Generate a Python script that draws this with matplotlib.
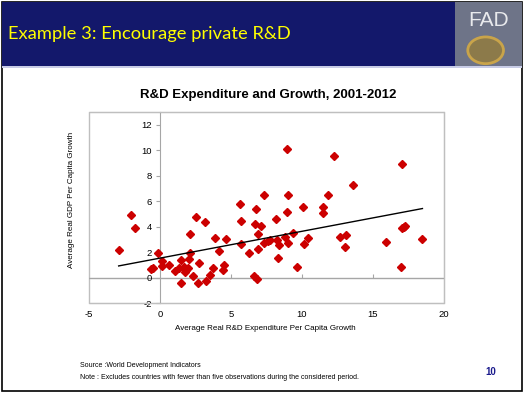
import numpy as np
import matplotlib

matplotlib.use("Agg")
import matplotlib.pyplot as plt
from matplotlib.patches import Rectangle, Circle

# R&D expenditure growth (x) vs GDP per capita growth (y)
rd_growth = [
    -2.91, -2.04, -1.73, -0.66, -0.52, -0.14, 0.15, 0.15, 0.66, 1.07,
    1.45, 1.36, 1.50, 1.67, 1.83, 1.76, 1.98, 2.05, 2.12, 2.12,
    2.35, 2.52, 2.72, 2.70, 3.15, 3.22, 3.55, 3.77, 3.85, 4.17,
    4.50, 4.47, 4.65, 5.67, 5.69, 5.69, 6.30, 6.77, 6.71, 7.13,
    6.89, 6.88, 6.60, 6.86, 7.34, 7.36, 7.60, 7.76, 8.19, 8.23,
    8.40, 8.84, 9.00, 9.34, 8.28, 9.63, 8.97, 8.99, 8.94, 10.09,
    10.15, 10.45, 11.45, 11.45, 11.86, 12.28, 12.70, 13.10, 13.00, 13.60,
    15.93, 17.06, 17.06, 17.17, 17.29, 18.49, 17.01,
]
gdp_growth = [
    2.17, 4.88, 3.90, 0.66, 0.78, 1.90, 1.28, 0.88, 0.95, 0.50,
    -0.46, 0.78, 1.40, 0.84, 0.63, 0.45, 0.71, 1.45, 1.92, 3.42,
    0.14, 4.73, 1.12, -0.45, 4.37, -0.24, 0.22, 0.78, 3.08, 2.12,
    1.02, 0.58, 3.00, 5.78, 4.47, 2.62, 1.89, 5.39, 4.21, 4.02,
    3.45, 2.23, 0.12, -0.09, 6.45, 2.72, 2.85, 2.96, 4.60, 2.97,
    2.59, 3.16, 2.70, 3.48, 1.50, 0.85, 10.09, 6.51, 5.12, 5.54,
    2.62, 3.14, 5.54, 5.07, 6.51, 9.52, 3.22, 3.32, 2.43, 7.28,
    2.80, 8.92, 3.90, 3.98, 4.05, 3.05, 0.84,
]
x_ticks = [-5, 0, 5, 10, 15, 20]
y_ticks = [-2, 0, 2, 4, 6, 8, 10, 12]

NAVY = "#13186B"
RED = "#CC0000"
GRID = "#A6A6A6"

plt.rcParams["axes.unicode_minus"] = False

fig = plt.figure(figsize=(5.25, 3.93), dpi=100)
fig.patch.set_facecolor("white")

# slide frame and header banner
fig.patches.append(Rectangle((0.004, 0.006), 0.990, 0.990, transform=fig.transFigure,
                             fill=False, edgecolor="black", linewidth=1.2))
fig.patches.append(Rectangle((0.004, 0.832), 0.990, 0.164, transform=fig.transFigure,
                             facecolor=NAVY, edgecolor="none"))
fig.patches.append(Rectangle((0.004, 0.826), 0.990, 0.005, transform=fig.transFigure,
                             facecolor="#C8CCE6", edgecolor="none"))
fig.text(0.016, 0.913, "Example 3: Encourage private R&D", color="#FFFF00",
         fontsize=13.2, family=["Lato", "DejaVu Sans"], ha="left", va="center")

# logo block
fig.patches.append(Rectangle((0.866, 0.832), 0.128, 0.164, transform=fig.transFigure,
                             facecolor="#6E7488", edgecolor="none"))
fig.patches.append(Circle((0.925, 0.872), 0.034, transform=fig.transFigure,
                          facecolor="#8C7A4A", edgecolor="#C9A44A", linewidth=2.0))
fig.text(0.930, 0.948, "FAD", color="white", fontsize=15, family="Liberation Sans",
         ha="center", va="center", alpha=0.85)

ax = fig.add_axes([0.1695, 0.229, 0.676, 0.486])
ax.plot(rd_growth, gdp_growth, linestyle="none", marker="D", markersize=4.0,
        color=RED, markeredgecolor=RED, zorder=3)

coef = np.polyfit(rd_growth, gdp_growth, 1)
line_x = np.array([min(rd_growth), max(rd_growth)])
ax.plot(line_x, np.polyval(coef, line_x), color="black", linewidth=1.0, zorder=4)

ax.set_xlim(-5, 20)
ax.set_ylim(-2, 13)

# outer box
for side in ("top", "right", "bottom"):
    ax.spines[side].set_color("#BFBFBF")
ax.add_patch(Rectangle((0, 0), 1, 1, transform=ax.transAxes, fill=False,
                       edgecolor="#BFBFBF", linewidth=1.0, clip_on=False))
ax.spines["left"].set_position(("data", 0))
ax.spines["left"].set_color(GRID)
ax.axhline(0, color=GRID, linewidth=1.0, zorder=1)

ax.set_xticks(x_ticks)
ax.set_yticks(y_ticks)
ax.tick_params(axis="x", length=0, labelsize=6.8, pad=5)
ax.tick_params(axis="y", length=3, color=GRID, labelsize=6.8, pad=3)
for lbl in ax.get_xticklabels() + ax.get_yticklabels():
    lbl.set_family("Liberation Sans")

# small tick marks on the zero line
zero_axis = ax.secondary_xaxis(2 / 15)
zero_axis.set_xticks([5, 10, 15])
zero_axis.tick_params(direction="in", length=3, color=GRID, labelbottom=False)
zero_axis.spines["bottom"].set_visible(False)

fig.text(0.51, 0.757, "R&D Expenditure and Growth, 2001-2012", fontsize=9.5,
         fontweight="bold", family="Liberation Sans", ha="center", va="center")
fig.text(0.505, 0.163, "Average Real R&D Expenditure Per Capita Growth", fontsize=5.8,
         family=["Liberation Sans Narrow", "Liberation Sans"], ha="center", va="center")
fig.text(0.137, 0.49, "Average Real GDP Per Capita Growth", fontsize=5.8, rotation=90,
         family=["Liberation Sans Narrow", "Liberation Sans"], ha="center", va="center")

fig.text(0.152, 0.070, "Source :World Development Indicators", fontsize=5.0,
         family="Liberation Sans", ha="left", va="center")
fig.text(0.152, 0.040, "Note : Excludes countries with fewer than five observations "
         "during the considered period.", fontsize=5.0, family="Liberation Sans",
         ha="left", va="center")
fig.text(0.935, 0.054, "10", fontsize=7, fontweight="bold", color="#1A1A8C",
         family="Liberation Sans", ha="center", va="center")

fig.savefig("out.png", dpi=100)
